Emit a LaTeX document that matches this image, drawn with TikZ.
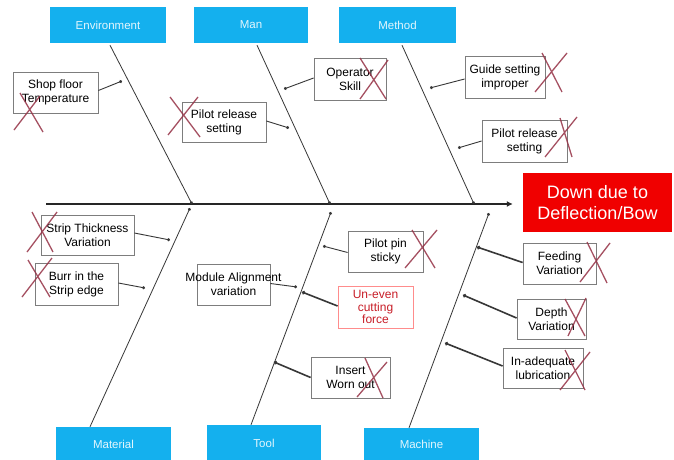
\documentclass[tikz,border=0pt]{standalone}
\usepackage{fontspec}
\setmainfont{Liberation Sans}
\usetikzlibrary{arrows.meta,calc}
\definecolor{catblue}{RGB}{20,176,238}
\definecolor{headred}{RGB}{240,0,0}
\definecolor{xred}{RGB}{150,50,70}
\definecolor{boxgray}{RGB}{125,125,125}
\definecolor{linegray}{RGB}{55,55,55}
\definecolor{unevenred}{RGB}{200,30,40}
\begin{document}
\begin{tikzpicture}[x=1pt,y=-1pt,
  cat/.style={fill=catblue, draw=none, inner sep=0pt, text=white!88!catblue,
    font=\fontsize{11.5}{13}\selectfont},
  cause/.style={draw=boxgray, line width=0.8pt, fill=white, inner sep=0pt, align=center,
    font=\fontsize{12}{14}\selectfont, text=black},
  sub/.style={draw=linegray, line width=0.9pt, -{Circle[length=3pt]}},
  subthick/.style={sub, line width=1.6pt, -{Circle[length=3.5pt]}},
  bone/.style={draw=linegray, line width=0.8pt, -{Circle[length=3pt]}},
  spine/.style={draw=black!85, line width=2.5pt, -{Latex[length=6pt,width=6pt]}},
  xmark/.style={draw=xred, line width=1.3pt, opacity=0.85},
]
\useasboundingbox[fill=white] (0,0) rectangle (674,460);

% category boxes
\node[cat, minimum width=116pt, minimum height=36pt] (env) at (108,25) {Environment};
\node[cat, minimum width=114pt, minimum height=36pt] (man) at (251,25) {Man};
\node[cat, minimum width=117pt, minimum height=36pt] (meth) at (397.5,25) {Method};
\node[cat, minimum width=115pt, minimum height=34pt] (mat) at (113.5,444) {Material};
\node[cat, minimum width=114pt, minimum height=36pt] (tool) at (264,443) {Tool};
\node[cat, minimum width=115pt, minimum height=33pt] (mach) at (421.5,444.5) {Machine};

% head
\node[fill=headred, inner sep=0pt, minimum width=149pt, minimum height=59pt,
  text=white, align=center, font=\fontsize{18}{21}\selectfont] (head) at (597.5,202.5)
  {Down due to\\Deflection/Bow};

% spine
\coordinate (spstart) at (46,204);
\draw[spine, shorten >=10pt] (spstart) -- (spstart -| head.west);

% junctions on spine
\coordinate (envj) at (192,204);
\coordinate (manj) at (330,204);
\coordinate (methj) at (474,204);
\coordinate (matj) at (190,208);
\coordinate (toolj) at (331,212);
\coordinate (machj) at (489,213);

% bones
\draw[bone] ($(env.south)+(2,2)$) -- (envj);
\draw[bone] ($(man.south)+(6,2)$) -- (manj);
\draw[bone] ($(meth.south)+(4.5,2)$) -- (methj);
\draw[bone] ($(mat.north)+(-23.5,0)$) -- (matj);
\draw[bone] ($(tool.north)+(-13,0)$) -- (toolj);
\draw[bone] ($(mach.north)+(-12.5,0)$) -- (machj);

% cause boxes
\node[cause, minimum width=85pt, minimum height=41pt] (shop) at (55.5,92.5) {Shop floor\\Temperature};
\node[cause, minimum width=84pt, minimum height=40pt] (pilotA) at (224,122) {Pilot release\\setting};
\node[cause, minimum width=72pt, minimum height=42pt] (op) at (350,79) {Operator\\Skill};
\node[cause, minimum width=80pt, minimum height=42pt] (guide) at (505,77) {Guide setting\\improper};
\node[cause, minimum width=85pt, minimum height=42pt] (pilotB) at (524.5,141) {Pilot release\\setting};
\node[cause, minimum width=93pt, minimum height=40pt] (strip) at (87.5,235) {Strip Thickness\\Variation};
\node[cause, minimum width=83pt, minimum height=42pt] (burr) at (76.5,284) {Burr in the\\Strip edge};
\node[cause, minimum width=73pt, minimum height=41pt] (module) at (233.5,284.5) {};
\node[align=center, inner sep=0pt, font=\fontsize{12}{14}\selectfont, text=black] (moduletext)
  at (module.center) {Module Alignment\\variation};
\node[cause, minimum width=75pt, minimum height=41pt] (pin) at (385.5,251.5) {Pilot pin\\sticky};
\node[cause, draw=red!45, text=unevenred, font=\fontsize{12}{12.5}\selectfont,
  minimum width=75pt, minimum height=42pt] (uneven) at (375.5,307) {Un-even\\cutting\\force};
\node[cause, minimum width=79pt, minimum height=41pt] (insert) at (350.5,377.5) {Insert\\Worn out};
\node[cause, minimum width=73pt, minimum height=41pt] (feed) at (559.5,263.5) {Feeding\\Variation};
\node[cause, minimum width=69pt, minimum height=40pt] (depth) at (551.5,319) {Depth\\Variation};
\node[cause, minimum width=80pt, minimum height=40pt] (inad) at (543,368) {In-adequate\\lubrication};

% arrow targets on bones
\coordinate (tshop) at (122,81);
\coordinate (tpilotA) at (289,128);
\coordinate (top) at (284,89);
\coordinate (tguide) at (430,88);
\coordinate (tpilotB) at (458,148);
\coordinate (tstrip) at (170,240);
\coordinate (tburr) at (145,288);
\coordinate (tmodule) at (297,287);
\coordinate (tpin) at (323,246);
\coordinate (tuneven) at (302,292);
\coordinate (tinsert) at (274,362);
\coordinate (tfeed) at (477,247);
\coordinate (tdepth) at (463,295);
\coordinate (tinad) at (445,343);

% sub-cause arrows
\draw[sub] ($(shop.east)+(0,-2)$) -- (tshop);
\draw[sub] ($(pilotA.east)+(0,-1)$) -- (tpilotA);
\draw[sub] ($(op.west)+(0,-1)$) -- (top);
\draw[sub] ($(guide.west)+(0,2)$) -- (tguide);
\draw[sub] (pilotB.west) -- (tpilotB);
\draw[sub] ($(strip.east)+(0,-2)$) -- (tstrip);
\draw[sub] ($(burr.east)+(0,-1)$) -- (tburr);
\draw[sub] ($(module.east)+(0,-1)$) -- (tmodule);
\draw[sub] ($(pin.west)+(0,1)$) -- (tpin);
\draw[subthick] ($(uneven.west)+(0,-1)$) -- (tuneven);
\draw[subthick] (insert.west) -- (tinsert);
\draw[subthick] ($(feed.west)+(0,-1)$) -- (tfeed);
\draw[subthick] ($(depth.west)+(0,-1)$) -- (tdepth);
\draw[subthick] ($(inad.west)+(0,-2)$) -- (tinad);

% red crosses
\draw[xmark] (20,93) -- (43,132) (14,130) -- (40,96);
\draw[xmark] (170,97) -- (200,137) (168,135) -- (198,97);
\draw[xmark] (360,58) -- (386,99) (360,99) -- (388,60);
\draw[xmark] (542,53) -- (562,92) (535,92) -- (567,53);
\draw[xmark] (560,118) -- (572,157) (545,157) -- (577,117);
\draw[xmark] (32,212) -- (53,252) (27,252) -- (57,212);
\draw[xmark] (28,260) -- (50,297) (22,297) -- (52,258);
\draw[xmark] (412,230) -- (435,268) (405,268) -- (437,230);
\draw[xmark] (365,358) -- (383,398) (357,397) -- (387,362);
\draw[xmark] (587,242) -- (607,283) (580,282) -- (610,243);
\draw[xmark] (565,299) -- (585,336) (568,336) -- (586,298);
\draw[xmark] (565,350) -- (585,390) (560,390) -- (590,352);
\end{tikzpicture}
\end{document}
